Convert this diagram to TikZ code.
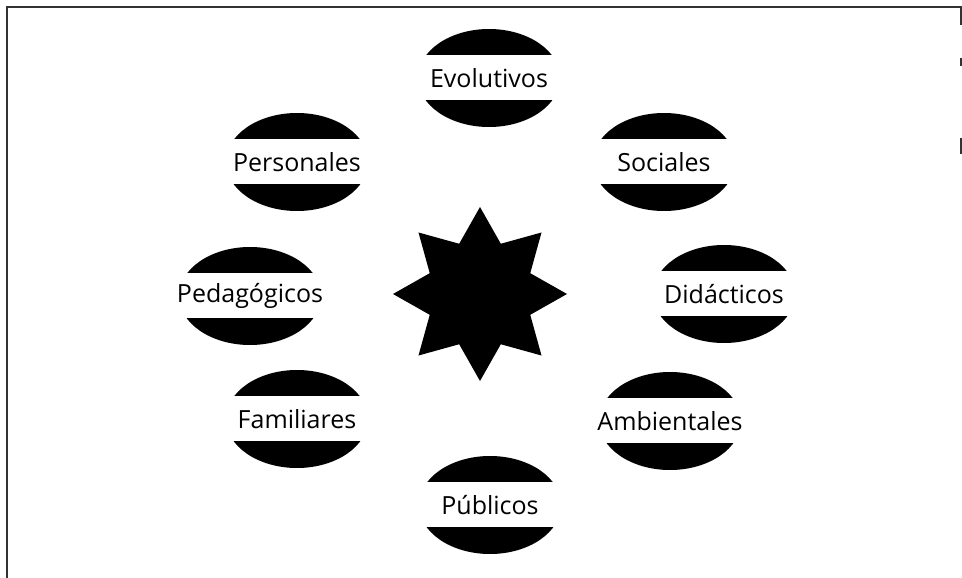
\documentclass[tikz,border=0pt]{standalone}
\usepackage{fontspec}
\setmainfont{Open Sans}
\usetikzlibrary{shapes.geometric}
\tikzset{
  capa/.style={ellipse,inner sep=0pt,minimum width=142,minimum height=98,
    path picture={\fill[black] (path picture bounding box.north west)
      rectangle ([yshift=23pt]path picture bounding box.east);
      \fill[black] ([yshift=-22pt]path picture bounding box.west)
      rectangle (path picture bounding box.south east);}},
  rotulo/.style={inner sep=0pt,font=\fontsize{25}{28}\selectfont},
  marco/.style={draw=black!80,line width=1.4pt}
}
\begin{document}
\begin{tikzpicture}[x=1pt,y=-1pt]
    \useasboundingbox (0,0) rectangle (962,578);
    % marco
    \draw[marco] (7,578) -- (7,7) -- (961,7) -- (961,25);
    \draw[marco] (961,58) -- (961,66);
    \draw[marco] (961,138) -- (961,154);
    % estrella central
    \node[star,star points=8,star point ratio=1.6,minimum size=174,inner sep=0pt,fill=black] (nucleo) at (480,294) {};
    % factores
    \foreach \n/\x/\y/\l in {evol/489/78/Evolutivos, pers/297/162/Personales, soci/664/162/Sociales,
                             peda/250/296/Pedagógicos, dida/724/294/Didácticos, fami/297/419/Familiares,
                             ambi/670/421/Ambientales, publ/490/505/Públicos}
      {\node[capa] (\n) at (\x,\y) {};
       \node[rotulo] (\n-t) at (\n) {\l};}
  \end{tikzpicture}
\end{document}
